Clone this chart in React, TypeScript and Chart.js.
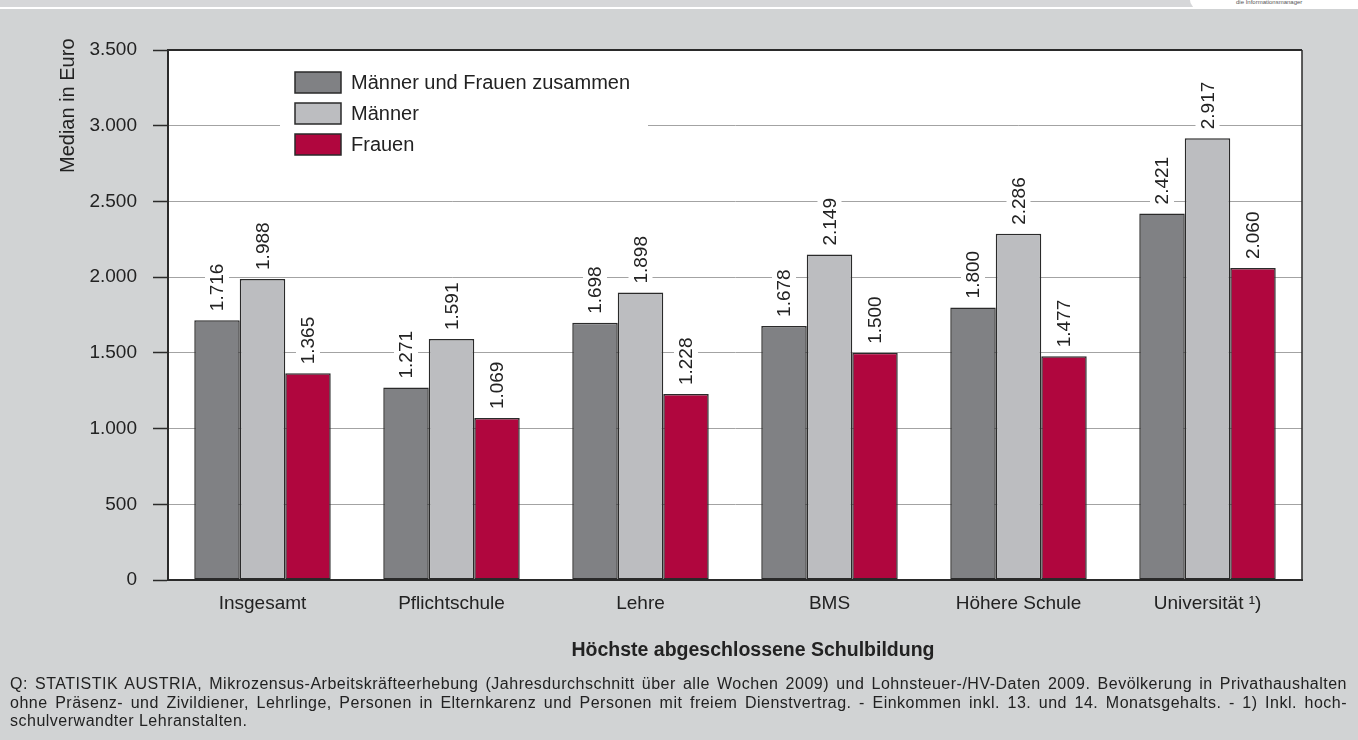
import React, { useEffect, useRef } from "react";
import { Chart, registerables } from "chart.js";

Chart.register(...registerables);

const categories = ["Insgesamt", "Pflichtschule", "Lehre", "BMS", "Höhere Schule", "Universität ¹)"];
const seriesLabels = ["Männer und Frauen zusammen", "Männer", "Frauen"];
const totalValues = [1716, 1271, 1698, 1678, 1800, 2421];
const menValues = [1988, 1591, 1898, 2149, 2286, 2917];
const womenValues = [1365, 1069, 1228, 1500, 1477, 2060];
const seriesColors = ["#808184", "#bcbdc0", "#b0063e"];
const yMax = 3500;
const yStep = 500;
const yTitle = "Median in Euro";
const xTitle = "Höchste abgeschlossene Schulbildung";
const footerLines = [
  "Q: STATISTIK AUSTRIA, Mikrozensus-Arbeitskräfteerhebung (Jahresdurchschnitt über alle Wochen 2009) und Lohnsteuer-/HV-Daten 2009. Bevölkerung in Privathaushalten",
  "ohne Präsenz- und Zivildiener, Lehrlinge, Personen in Elternkarenz und Personen mit freiem Dienstvertrag. - Einkommen inkl. 13. und 14. Monatsgehalts. - 1) Inkl. hoch-",
  "schulverwandter Lehranstalten.",
];

const FONT = "'Liberation Sans', Arial, Helvetica, sans-serif";

function fmt(n: number): string {
  const s = Math.round(n).toString();
  return s.replace(/\B(?=(\d{3})+(?!\d))/g, ".");
}

const plotPlugin = {
  id: "plotDecor",
  beforeDraw(chart: any) {
    const { ctx, chartArea: a } = chart;
    ctx.save();
    ctx.fillStyle = "#ffffff";
    ctx.fillRect(a.left, a.top, a.right - a.left, a.bottom - a.top);
    ctx.restore();
  },
  afterDatasetsDraw(chart: any) {
    const { ctx, chartArea: a } = chart;
    ctx.save();
    // value labels
    ctx.font = `19px ${FONT}`;
    chart.data.datasets.forEach((ds: any, i: number) => {
      const meta = chart.getDatasetMeta(i);
      meta.data.forEach((el: any, j: number) => {
        const txt = fmt(ds.data[j]);
        const w = ctx.measureText(txt).width;
        const x = el.x;
        const y0 = el.y - 9;
        ctx.fillStyle = "#ffffff";
        ctx.fillRect(x - 12, y0 - w - 4, 24, w + 6);
        ctx.save();
        ctx.translate(x, y0);
        ctx.rotate(-Math.PI / 2);
        ctx.fillStyle = "#222222";
        ctx.textAlign = "left";
        ctx.textBaseline = "middle";
        ctx.fillText(txt, 0, 1);
        ctx.restore();
      });
    });

    // legend
    const lx = a.left + 127;
    const ly = a.top + 22;
    ctx.fillStyle = "#ffffff";
    ctx.fillRect(a.left + 112, a.top + 10, 368, 98);
    ctx.font = `20px ${FONT}`;
    chart.data.datasets.forEach((ds: any, i: number) => {
      const by = ly + i * 31;
      ctx.fillStyle = ds.backgroundColor;
      ctx.fillRect(lx, by, 46, 21);
      ctx.strokeStyle = "#2a2a2a";
      ctx.lineWidth = 1.5;
      ctx.strokeRect(lx, by, 46, 21);
      ctx.fillStyle = "#222222";
      ctx.textAlign = "left";
      ctx.textBaseline = "middle";
      ctx.fillText(ds.label, lx + 56, by + 11);
    });
    ctx.restore();
  },
  afterDraw(chart: any) {
    const { ctx, chartArea: a } = chart;
    ctx.save();
    ctx.strokeStyle = "#2a2a2a";
    ctx.lineWidth = 2;
    ctx.beginPath();
    ctx.moveTo(a.left - 1, a.top);
    ctx.lineTo(a.right, a.top);
    ctx.stroke();
    ctx.lineWidth = 1.5;
    ctx.beginPath();
    ctx.moveTo(a.right, a.top);
    ctx.lineTo(a.right, a.bottom);
    ctx.stroke();

    // y title
    ctx.font = `20px ${FONT}`;
    ctx.fillStyle = "#222222";
    ctx.save();
    ctx.translate(68, 173);
    ctx.rotate(-Math.PI / 2);
    ctx.textAlign = "left";
    ctx.textBaseline = "middle";
    ctx.fillText(yTitle, 0, 0);
    ctx.restore();

    // x title
    ctx.font = `bold 19.5px ${FONT}`;
    ctx.textAlign = "center";
    ctx.textBaseline = "middle";
    ctx.fillText(xTitle, (a.left + a.right) / 2 + 18, 651);
    ctx.restore();
  },
};

export default function App() {
  const ref = useRef<HTMLCanvasElement | null>(null);

  useEffect(() => {
    if (!ref.current) return;
    const chart = new Chart(ref.current, {
      type: "bar",
      data: {
        labels: categories,
        datasets: [
          { label: seriesLabels[0], data: totalValues, backgroundColor: seriesColors[0] },
          { label: seriesLabels[1], data: menValues, backgroundColor: seriesColors[1] },
          { label: seriesLabels[2], data: womenValues, backgroundColor: seriesColors[2] },
        ].map((d) => ({
          ...d,
          borderColor: "#2a2a2a",
          borderWidth: 1.5,
          borderSkipped: false,
          categoryPercentage: 0.722,
          barPercentage: 1,
        })),
      },
      options: {
        responsive: false,
        animation: false,
        devicePixelRatio: 1,
        layout: { padding: { left: 0, top: 50, right: 56, bottom: 0 } },
        plugins: {
          legend: { display: false },
          tooltip: { enabled: false },
          title: { display: false },
        },
        scales: {
          x: {
            grid: { display: false, drawTicks: false },
            border: { display: true, color: "#2a2a2a", width: 2 },
            ticks: {
              font: { family: FONT, size: 19 },
              color: "#222222",
              padding: 12,
              maxRotation: 0,
              autoSkip: false,
            },
            afterFit: (scale: any) => {
              scale.height = 160;
            },
          },
          y: {
            min: 0,
            max: yMax,
            grid: {
              color: "#a3a3a3",
              lineWidth: 1,
              tickLength: 15,
              tickColor: "#2a2a2a",
              tickWidth: 1.5,
            },
            border: { display: true, color: "#2a2a2a", width: 2 },
            ticks: {
              stepSize: yStep,
              font: { family: FONT, size: 19 },
              color: "#222222",
              padding: 16,
              callback: (v: any) => fmt(Number(v)),
            },
            afterFit: (scale: any) => {
              scale.width = 168;
            },
          },
        },
      },
      plugins: [plotPlugin],
    });
    return () => chart.destroy();
  }, []);

  return (
    <div
      style={{
        position: "absolute",
        left: 0,
        top: 0,
        width: 1358,
        height: 740,
        background: "#d1d3d4",
        overflow: "hidden",
        fontFamily: FONT,
      }}
    >
      <div style={{ position: "absolute", left: 0, top: 0, width: 1358, height: 7, background: "#d6d7d9" }} />
      <div style={{ position: "absolute", left: 0, top: 7, width: 1358, height: 2, background: "#ffffff" }} />
      <div
        style={{
          position: "absolute",
          left: 1190,
          top: 0,
          width: 168,
          height: 9,
          background: "#ffffff",
          borderBottomLeftRadius: 14,
        }}
      >
        <span style={{ position: "absolute", left: 46, top: -1, fontSize: 6, color: "#555", whiteSpace: "nowrap" }}>
          die Informationsmanager
        </span>
      </div>
      <canvas ref={ref} width={1358} height={740} style={{ position: "absolute", left: 0, top: 0, display: "block" }} />
      <div
        style={{
          position: "absolute",
          left: 10,
          top: 675,
          width: 1337,
          fontSize: 16,
          lineHeight: "18.5px",
          letterSpacing: "0.5px",
          color: "#222",
        }}
      >
        {footerLines.map((line, i) => (
          <div
            key={i}
            style={{
              textAlign: "justify",
              textAlignLast: i < footerLines.length - 1 ? "justify" : "left",
              whiteSpace: "nowrap",
            }}
          >
            {line}
          </div>
        ))}
      </div>
    </div>
  );
}
